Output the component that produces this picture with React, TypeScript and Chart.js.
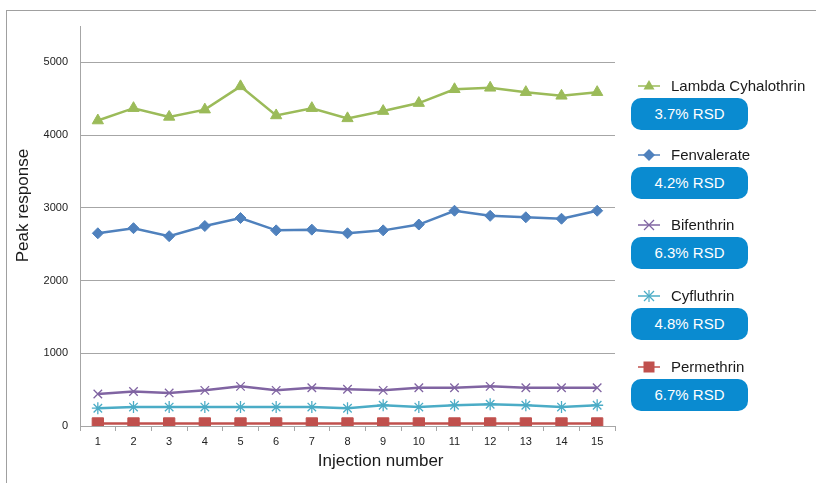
import React, { useEffect, useRef } from "react";
import { Chart, registerables } from "chart.js";

Chart.register(...registerables);

const injections = ["1", "2", "3", "4", "5", "6", "7", "8", "9", "10", "11", "12", "13", "14", "15"];
const lambdaCyhalothrin = [4200, 4370, 4250, 4350, 4670, 4270, 4370, 4230, 4330, 4440, 4630, 4650, 4590, 4540, 4590];
const fenvalerate = [2650, 2720, 2610, 2750, 2860, 2690, 2700, 2650, 2690, 2770, 2960, 2890, 2870, 2850, 2960];
const bifenthrin = [440, 475, 455, 490, 545, 490, 525, 505, 490, 525, 525, 545, 525, 525, 525];
const cyfluthrin = [245, 260, 260, 260, 260, 260, 260, 245, 285, 260, 285, 300, 285, 260, 285];
const permethrin = [35, 35, 35, 35, 35, 35, 35, 35, 35, 35, 35, 35, 35, 35, 35];
const seriesNames = ["Lambda Cyhalothrin", "Fenvalerate", "Bifenthrin", "Cyfluthrin", "Permethrin"];
const rsdLabels = ["3.7% RSD", "4.2% RSD", "6.3% RSD", "4.8% RSD", "6.7% RSD"];
const yTicks = [0, 1000, 2000, 3000, 4000, 5000];
const xTitle = "Injection number";
const yTitle = "Peak response";

const colors = ["#9BBB59", "#4F81BD", "#8064A2", "#4BACC6", "#C0504D"];
const FONT = "'Liberation Sans', Arial, sans-serif";

function Marker({ kind, color }: { kind: number; color: string }) {
  const cx = 11, cy = 7;
  let shape: React.ReactNode = null;
  if (kind === 0) shape = <polygon points={`${cx},${cy - 6} ${cx + 5.5},${cy + 3.5} ${cx - 5.5},${cy + 3.5}`} fill={color} />;
  if (kind === 1) shape = <polygon points={`${cx},${cy - 6} ${cx + 6},${cy} ${cx},${cy + 6} ${cx - 6},${cy}`} fill={color} />;
  if (kind === 2) shape = <g stroke={color} strokeWidth={1.2}><line x1={cx - 5} y1={cy - 5} x2={cx + 5} y2={cy + 5} /><line x1={cx - 5} y1={cy + 5} x2={cx + 5} y2={cy - 5} /></g>;
  if (kind === 3) shape = <g stroke={color} strokeWidth={1.2}><line x1={cx - 5} y1={cy - 5} x2={cx + 5} y2={cy + 5} /><line x1={cx - 5} y1={cy + 5} x2={cx + 5} y2={cy - 5} /><line x1={cx} y1={cy - 6} x2={cx} y2={cy + 6} /></g>;
  if (kind === 4) shape = <rect x={cx - 5.5} y={cy - 5.5} width={11} height={11} fill={color} />;
  return (
    <svg width={22} height={14} style={{ position: "absolute", left: 638, top: -7 }}>
      <line x1={0} y1={cy} x2={22} y2={cy} stroke={color} strokeWidth={1.5} />
      {shape}
    </svg>
  );
}

const legendCenters = [86, 155, 225, 296, 367];

export default function App() {
  const ref = useRef<HTMLCanvasElement | null>(null);
  useEffect(() => {
    if (!ref.current) return;
    const styles = [
      { pointStyle: "triangle", radius: 6.5, bw: 1 },
      { pointStyle: "rectRot", radius: 5.5, bw: 1 },
      { pointStyle: "crossRot", radius: 6, bw: 1.3 },
      { pointStyle: "star", radius: 6, bw: 1.3 },
      { pointStyle: "rect", radius: 8, bw: 1 },
    ];
    const values = [lambdaCyhalothrin, fenvalerate, bifenthrin, cyfluthrin, permethrin];
    const titlePlugin = {
      id: "axisTitles",
      afterDraw(chart: any) {
        const { ctx, chartArea } = chart;
        ctx.save();
        ctx.fillStyle = "#1a1a1a";
        ctx.font = `17px ${FONT}`;
        ctx.textAlign = "center";
        ctx.textBaseline = "middle";
        ctx.fillText(xTitle, chartArea.left + (chartArea.right - chartArea.left) * 0.562, chartArea.bottom + 35);
        ctx.translate(chartArea.left - 57, chartArea.top + (chartArea.bottom - chartArea.top) * 0.449);
        ctx.rotate(-Math.PI / 2);
        ctx.fillText(yTitle, 0, 0);
        ctx.restore();
      },
    };
    const chart = new Chart(ref.current, {
      type: "line",
      data: {
        labels: injections,
        datasets: values.map((v, i) => ({
          label: seriesNames[i],
          data: v,
          borderColor: colors[i],
          backgroundColor: colors[i],
          borderWidth: 2.5,
          pointStyle: styles[i].pointStyle as any,
          pointRadius: styles[i].radius,
          pointBorderWidth: styles[i].bw,
          pointBackgroundColor: colors[i],
          pointBorderColor: colors[i],
          tension: 0,
        })),
      },
      options: {
        responsive: false,
        animation: false,
        layout: { padding: { left: 0, right: 201, top: 26, bottom: 0 } },
        plugins: { legend: { display: false }, tooltip: { enabled: false } },
        scales: {
          x: {
            type: "category",
            offset: true,
            afterFit: (s: any) => { s.height = 57; },
            grid: { display: true, drawOnChartArea: false, drawTicks: true, tickLength: 5, color: "#a6a6a6", offset: true },
            border: { color: "#a6a6a6" },
            ticks: { color: "#222", font: { family: FONT, size: 11 }, padding: 4, maxRotation: 0, autoSkip: false },
          },
          y: {
            min: 0,
            max: 5500,
            afterFit: (s: any) => { s.width = 80; },
            afterBuildTicks: (s: any) => { s.ticks = yTicks.map((v) => ({ value: v })); },
            grid: { color: "#a6a6a6", drawTicks: false },
            border: { color: "#a6a6a6" },
            ticks: { color: "#222", font: { family: FONT, size: 11 }, padding: 12, callback: (v: any) => String(v) },
          },
        },
      },
      plugins: [titlePlugin],
    });
    return () => chart.destroy();
  }, []);

  return (
    <div style={{ position: "fixed", left: 0, top: 0, width: 816, height: 483, overflow: "hidden", background: "#fff", fontFamily: FONT }}>
      <div style={{ position: "absolute", left: 6, top: 10, width: 900, height: 600, border: "1.5px solid #a0a0a0", boxSizing: "border-box" }} />
      <canvas ref={ref} width={816} height={483} style={{ position: "absolute", left: 0, top: 0 }} />
      {seriesNames.map((name, i) => (
        <div key={name} style={{ position: "absolute", left: 0, top: legendCenters[i], width: 816, height: 0 }}>
          <Marker kind={i} color={colors[i]} />
          <div style={{ position: "absolute", left: 671, top: -10, fontSize: 15, lineHeight: "20px", color: "#1a1a1a", whiteSpace: "nowrap" }}>{name}</div>
          <div style={{ position: "absolute", left: 631, top: 12, width: 117, height: 32, borderRadius: 10, background: "#0a8bd0", color: "#fff", fontSize: 15, lineHeight: "32px", textAlign: "center" }}>{rsdLabels[i]}</div>
        </div>
      ))}
    </div>
  );
}
